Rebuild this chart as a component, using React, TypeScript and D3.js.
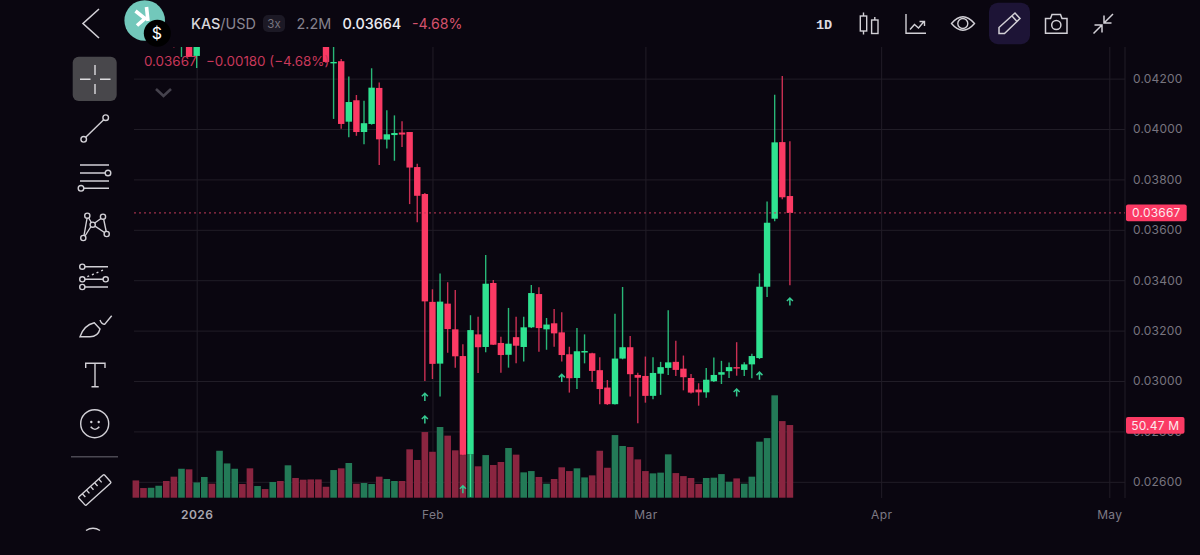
import React, { useRef, useEffect } from "react";
import * as d3 from "d3";

// one candle per day, 24 Dec 2025 to 20 Mar 2026
// the first candles sit above the visible top edge, so those are rough estimates
const opens = [
  0.0448, 0.0444, 0.0442, 0.0444, 0.0447, 0.0443, 0.0436, 0.044, 0.0429, 0.0438,
  0.0444, 0.044, 0.0456, 0.0464, 0.0472, 0.0468, 0.0456, 0.046, 0.0457, 0.0462,
  0.0458, 0.0469, 0.0462, 0.0456, 0.045, 0.0444, 0.04262, 0.04269, 0.04029, 0.04114,
  0.03988, 0.0402, 0.04163, 0.03958, 0.03976, 0.03986, 0.03988, 0.03849, 0.03742, 0.03314,
  0.03069, 0.03307, 0.03205, 0.03099, 0.02708, 0.03185, 0.03135, 0.03389, 0.03151, 0.03104,
  0.03174, 0.03135, 0.03213, 0.03345, 0.03205, 0.03229, 0.03193, 0.03106, 0.03012, 0.03113,
  0.0311, 0.03043, 0.02974, 0.02908, 0.03089, 0.03134, 0.03024, 0.0302, 0.02941, 0.03029,
  0.03052, 0.03076, 0.03049, 0.03012, 0.02966, 0.02955, 0.02999, 0.03025, 0.03039, 0.03055,
  0.03044, 0.03066, 0.03091, 0.03374, 0.03644, 0.03948, 0.03734,
];
const closes = [
  0.0444, 0.0442, 0.0444, 0.0447, 0.0443, 0.0436, 0.044, 0.04286, 0.0438, 0.0444,
  0.044, 0.0456, 0.0464, 0.0472, 0.0468, 0.0456, 0.046, 0.0457, 0.0462, 0.0458,
  0.0469, 0.0462, 0.0456, 0.045, 0.0444, 0.04266, 0.04266, 0.0402, 0.04107, 0.03988,
  0.04023, 0.04164, 0.03959, 0.03979, 0.03984, 0.03978, 0.03847, 0.03735, 0.03316, 0.03068,
  0.03315, 0.03206, 0.03098, 0.02707, 0.03202, 0.03134, 0.03386, 0.03144, 0.03103, 0.03148,
  0.0314, 0.03213, 0.03349, 0.0321, 0.03224, 0.03189, 0.03103, 0.03011, 0.03118, 0.03119,
  0.0304, 0.02968, 0.02908, 0.03089, 0.03134, 0.03027, 0.03013, 0.02941, 0.03032, 0.03055,
  0.03074, 0.03044, 0.03015, 0.02954, 0.02955, 0.03005, 0.03024, 0.03035, 0.03055, 0.03051,
  0.03066, 0.03099, 0.03374, 0.03628, 0.03947, 0.03729, 0.03667,
];
const highs = [
  0.045, 0.0446, 0.0446, 0.0449, 0.0449, 0.0445, 0.0442, 0.0442, 0.044, 0.0446,
  0.0447, 0.046, 0.047, 0.0479, 0.0475, 0.047, 0.0463, 0.0462, 0.0465, 0.0464,
  0.0473, 0.0471, 0.0464, 0.0457, 0.0452, 0.0446, 0.04353, 0.04278, 0.04208, 0.04135,
  0.04112, 0.04241, 0.04185, 0.04074, 0.04054, 0.04031, 0.03988, 0.03862, 0.03746, 0.03364,
  0.03427, 0.03392, 0.03361, 0.03146, 0.03261, 0.03255, 0.035, 0.03401, 0.03176, 0.0329,
  0.03255, 0.03255, 0.03381, 0.03372, 0.0325, 0.03286, 0.03273, 0.03136, 0.0321, 0.03185,
  0.03112, 0.03094, 0.03004, 0.03267, 0.03373, 0.03179, 0.03033, 0.03097, 0.03094, 0.03076,
  0.03281, 0.0316, 0.03101, 0.03028, 0.02991, 0.03052, 0.03093, 0.0308, 0.03073, 0.03154,
  0.03074, 0.03108, 0.03427, 0.03712, 0.04136, 0.0421, 0.03951,
];
const lows = [
  0.0442, 0.044, 0.044, 0.0442, 0.0441, 0.04323, 0.04286, 0.04286, 0.04242, 0.0436,
  0.0439, 0.0438, 0.0453, 0.0461, 0.0465, 0.0453, 0.0454, 0.0455, 0.0455, 0.0456,
  0.0456, 0.046, 0.0454, 0.0448, 0.0442, 0.04262, 0.0404, 0.04001, 0.03967, 0.03973,
  0.03939, 0.04017, 0.03857, 0.03923, 0.03874, 0.03929, 0.03702, 0.0363, 0.03, 0.03008,
  0.02938, 0.03112, 0.03053, 0.02636, 0.0254, 0.03032, 0.03114, 0.03143, 0.03033, 0.03053,
  0.0307, 0.03077, 0.0321, 0.03116, 0.03124, 0.03136, 0.03077, 0.02954, 0.02968, 0.0307,
  0.02996, 0.02908, 0.02905, 0.02907, 0.03086, 0.02938, 0.02832, 0.02914, 0.02928, 0.02945,
  0.03024, 0.0302, 0.02963, 0.0295, 0.02902, 0.02934, 0.02996, 0.02988, 0.03012, 0.03021,
  0.0302, 0.03011, 0.03087, 0.03333, 0.03634, 0.03721, 0.0338,
];
// volume in millions
const volumes = [
  12.0, 6.7, 6.9, 8.3, 11.6, 14.6, 20.1, 19.7, 10.6, 14.4,
  9.7, 32.6, 23.8, 20.1, 9.5, 20.4, 8.1, 6.0, 10.9, 11.6,
  22.5, 13.7, 12.5, 12.7, 12.7, 7.6, 19.2, 20.4, 24.1, 9.7,
  10.2, 9.5, 14.6, 13.0, 11.6, 11.6, 33.6, 26.2, 45.6, 31.9,
  49.1, 43.1, 32.9, 29.6, 29.9, 21.8, 29.6, 22.7, 24.8, 34.5,
  29.9, 17.6, 18.5, 14.4, 9.7, 13.0, 21.1, 18.5, 20.4, 14.1,
  15.5, 32.6, 20.8, 43.5, 35.9, 35.2, 26.6, 18.5, 16.9, 17.4,
  30.1, 17.1, 15.0, 13.7, 9.5, 13.7, 13.9, 16.4, 11.1, 13.4,
  9.7, 14.6, 38.9, 41.4, 71.1, 53.2, 50.47,
];
// little up arrows under some candles
const arrowCandles = [38, 38, 43, 56, 79, 82, 86];
const arrowPrices = [0.02937, 0.02847, 0.0257, 0.03012, 0.02954, 0.03021, 0.03315];

const priceTicks = [0.026, 0.028, 0.03, 0.032, 0.034, 0.036, 0.038, 0.04, 0.042];
const timeTicks = [
  new Date(Date.UTC(2026, 0, 1)),
  new Date(Date.UTC(2026, 1, 1)),
  new Date(Date.UTC(2026, 2, 1)),
  new Date(Date.UTC(2026, 3, 1)),
  new Date(Date.UTC(2026, 4, 1)),
];
const timeLabels = ["2026", "Feb", "Mar", "Apr", "May"];
const lastPrice = 0.03667;

const BG = "#0a0610";
const GREEN = "#2fe391";
const RED = "#fb3a64";
const GRID = "#211d27";
const FONT = "Inter, sans-serif";
const ICON = "#d2d0d6";

const App: React.FC = () => {
  const chartRef = useRef<SVGGElement | null>(null);

  useEffect(() => {
    if (!chartRef.current) return;
    const g = d3.select(chartRef.current);
    g.selectAll("*").remove();

    const left = 134;
    const right = 1125;
    const top = 47;
    const bottom = 498;

    const dates = d3.utcDay.range(
      new Date(Date.UTC(2025, 11, 24)),
      new Date(Date.UTC(2026, 2, 21))
    );
    const x = d3
      .scaleUtc()
      .domain([timeTicks[0], timeTicks[4]])
      .range([196.7, 1109.3]);
    const y = d3.scaleLinear().domain([0.026, 0.042]).range([481.8, 78.6]);
    const v = d3.scaleLinear().domain([0, 100]).range([497.7, 353.7]);

    g.append("clipPath")
      .attr("id", "plot")
      .append("rect")
      .attr("x", 130)
      .attr("y", top)
      .attr("width", right - 130)
      .attr("height", bottom - top + 1);

    // Grid lines
    g.append("g")
      .attr("transform", `translate(${right},0)`)
      .call(
        d3
          .axisLeft(y)
          .tickValues(priceTicks)
          .tickSize(right - left)
          .tickFormat(() => "")
      )
      .call((s) => s.select(".domain").remove())
      .call((s) => s.selectAll(".tick line").attr("stroke", GRID));

    g.append("g")
      .attr("transform", `translate(0,${bottom})`)
      .call(
        d3
          .axisTop(x)
          .tickValues(timeTicks)
          .tickSize(bottom - top)
          .tickFormat(() => "")
      )
      .call((s) => s.select(".domain").remove())
      .call((s) => s.selectAll(".tick line").attr("stroke", GRID));

    g.append("line")
      .attr("x1", right)
      .attr("x2", right)
      .attr("y1", top)
      .attr("y2", bottom)
      .attr("stroke", GRID);

    const plot = g.append("g").attr("clip-path", "url(#plot)");

    const up = (i: number) => closes[i] >= opens[i];

    // Candles
    plot
      .append("g")
      .selectAll("line")
      .data(dates)
      .join("line")
      .attr("x1", (d) => x(d))
      .attr("x2", (d) => x(d))
      .attr("y1", (_, i) => y(highs[i]))
      .attr("y2", (_, i) => y(lows[i]))
      .attr("stroke", (_, i) => (up(i) ? GREEN : RED))
      .attr("stroke-opacity", 0.8)
      .attr("stroke-width", 1.4);

    plot
      .append("g")
      .selectAll("rect")
      .data(dates)
      .join("rect")
      .attr("x", (d) => x(d) - 3.2)
      .attr("width", 6.4)
      .attr("y", (_, i) => y(Math.max(opens[i], closes[i])))
      .attr("height", (_, i) =>
        Math.max(1.4, Math.abs(y(opens[i]) - y(closes[i])))
      )
      .attr("fill", (_, i) => (up(i) ? GREEN : RED));

    // Volume
    plot
      .append("g")
      .selectAll("rect")
      .data(dates)
      .join("rect")
      .attr("x", (d) => x(d) - 3.3)
      .attr("width", 6.6)
      .attr("y", (_, i) => v(volumes[i]))
      .attr("height", (_, i) => v(0) - v(volumes[i]))
      .attr("fill", (_, i) => (up(i) ? "#237a57" : "#8a2540"));

    // the wick of the big green candle stays visible over its volume bar
    plot
      .append("line")
      .attr("x1", x(dates[44]))
      .attr("x2", x(dates[44]))
      .attr("y1", y(opens[44]))
      .attr("y2", y(lows[44]))
      .attr("stroke", GREEN)
      .attr("stroke-width", 1.4);

    // Arrows
    plot
      .append("g")
      .selectAll("path")
      .data(arrowCandles)
      .join("path")
      .attr("transform", (d, i) => `translate(${x(dates[d])},${y(arrowPrices[i])})`)
      .attr("d", "M0,4V-3.6M-3,-0.6L0,-3.6L3,-0.6")
      .attr("fill", "none")
      .attr("stroke", "#35c990")
      .attr("stroke-width", 1.5);

    // Last price line
    g.append("line")
      .attr("x1", left)
      .attr("x2", right)
      .attr("y1", y(lastPrice))
      .attr("y2", y(lastPrice))
      .attr("stroke", "#c23a58")
      .attr("stroke-width", 1)
      .attr("stroke-dasharray", "2 3");

    // Price axis
    g.append("g")
      .attr("transform", `translate(${right + 8},0)`)
      .call(
        d3
          .axisRight(y)
          .tickValues(priceTicks)
          .tickSize(0)
          .tickPadding(0)
          .tickFormat((d) => d3.format(".5f")(d as number))
      )
      .call((s) => s.select(".domain").remove())
      .call((s) =>
        s
          .selectAll(".tick text")
          .attr("fill", "#77747f")
          .attr("font-family", FONT)
          .attr("font-size", 12)
          .attr("letter-spacing", 0.2)
      );

    // Time axis
    g.append("g")
      .attr("transform", "translate(0,499)")
      .call(
        d3
          .axisBottom(x)
          .tickValues(timeTicks)
          .tickSize(0)
          .tickPadding(11)
          .tickFormat((_, i) => timeLabels[i])
      )
      .call((s) => s.select(".domain").remove())
      .call((s) =>
        s
          .selectAll<SVGTextElement, Date>(".tick text")
          .attr("fill", (_, i) => (i === 0 ? "#a9a6af" : "#7d7a85"))
          .attr("font-family", FONT)
          .attr("font-weight", (_, i) => (i === 0 ? 600 : 400))
          .attr("font-size", 12)
          .attr("letter-spacing", 0.4)
      );

    // Value tags on the right
    const tag = (w: number, cy: number, label: string) => {
      g.append("rect")
        .attr("x", 1126)
        .attr("y", cy - 8.3)
        .attr("width", w)
        .attr("height", 16.6)
        .attr("rx", 2)
        .attr("fill", RED);
      g.append("text")
        .attr("x", 1126 + w / 2)
        .attr("y", cy + 4.4)
        .attr("text-anchor", "middle")
        .attr("fill", "#fbe9ee")
        .attr("font-family", FONT)
        .attr("font-size", 12)
        .attr("letter-spacing", 0.2)
        .text(label);
    };
    tag(60.7, y(lastPrice), d3.format(".5f")(lastPrice));
    tag(58.5, v(volumes[86]) + 0.4, `${volumes[86]} M`);
  }, []);

  return (
    <svg
      width={1200}
      height={555}
      style={{ position: "absolute", left: 0, top: 0, background: BG }}
    >
      <g ref={chartRef} />

      {/* Header */}
      <path d="M99,9L83,23.5L99,38" fill="none" stroke={ICON} strokeWidth={1.6} />
      <circle cx={144.7} cy={20.5} r={20.3} fill="#72c8bb" />
      <path
        d="M135.500,11L145,18.500L137,25.500M146.500,7L148,21"
        fill="none"
        stroke="#fff"
        strokeWidth={3.6}
      />
      <circle cx={157.3} cy={33.3} r={13.5} fill="#000" />
      <text x={157} y={39} textAnchor="middle" fill="#fff" fontFamily={FONT} fontSize={16}>
        $
      </text>
      <text x={191} y={28.5} fontFamily={FONT} fontSize={14.4}>
        <tspan fill="#d8d6dc" fontWeight={500}>KAS</tspan>
        <tspan fill="#8a8792">/USD</tspan>
      </text>
      <rect x={263} y={15} width={22} height={17} rx={5} fill="#1c1925" />
      <text x={274} y={28} textAnchor="middle" fill="#77747f" fontFamily={FONT} fontSize={11.5}>
        3x
      </text>
      <text x={296.5} y={28.5} fill="#85828d" fontFamily={FONT} fontSize={14.4}>
        2.2M
      </text>
      <text x={342.5} y={28.5} fill="#ecebef" fontFamily={FONT} fontSize={14.4} fontWeight={500}>
        0.03664
      </text>
      <text x={412} y={28.5} fill="#d4526c" fontFamily={FONT} fontSize={14.2}>
        -4.68%
      </text>

      {/* Legend */}
      <text x={144} y={66} fill="#c8385a" fontFamily={FONT} fontSize={13.4}>
        0.03667
      </text>
      <text x={206} y={66} fill="#c8385a" fontFamily={FONT} fontSize={13.4}>
        −0.00180 (−4.68%)
      </text>
      <path d="M156,89L163.500,96L171,89" fill="none" stroke="#45424d" strokeWidth={2.6} />

      {/* Top right toolbar */}
      <text x={824} y={28.5} textAnchor="middle" fill="#dddbe0" fontFamily="'Liberation Mono', monospace" fontSize={13.5} fontWeight={700}>
        1D
      </text>
      <g fill="none" stroke={ICON} strokeWidth={1.4}>
        <rect x={860.3} y={16} width={6.4} height={15} />
        <path d="M863.500,12.500V16M863.500,31V34.500M874.800,17V20" />
        <rect x={871.6} y={20} width={6.4} height={13.5} />

        <path d="M906,14V33.300H926" />
        <path d="M910,29.500L914.500,24.500L918.500,28L924,21.500M919.500,21.500H924.500V26" />

        <path d="M951.500,23.500Q962.800,10 974.500,23.500Q962.800,37 951.500,23.500Z" />
        <circle cx={962.8} cy={23.5} r={5} />
      </g>
      <rect x={989} y={2.7} width={41} height={41.5} rx={9} fill="#1d1436" />
      <g fill="none" stroke={ICON} strokeWidth={1.5}>
        <path d="M999,33.500V27.500L1015,13L1020,18.500L1004.500,33.500Z" />
        <path d="M1012,16L1017,21.500" />

        <path d="M1045.500,18.500H1050.500L1052,14.500H1060.500L1062,18.500H1067V33.300H1045.500Z" />
        <circle cx={1056.3} cy={25} r={4.6} />

        <path d="M1113,14L1104,23M1104,15.500V23H1111.500" />
        <path d="M1093.500,33.500L1102,25M1094.500,25H1102V32.500" />
      </g>

      {/* Left toolbar */}
      <rect x={72.7} y={56.7} width={44} height={44.3} rx={6} fill="#48474b" />
      <path d="M95,65V75M95,84V94M80,79.300H90.500M100,79.300H110.500" stroke="#dcdbde" strokeWidth={1.4} />
      <g fill="none" stroke={ICON} strokeWidth={1.4}>
        <circle cx={83.7} cy={139.3} r={2.8} />
        <circle cx={105.7} cy={117.7} r={2.8} />
        <path d="M85.700,137.300L103.700,119.700" />

        <path d="M80,165H109M80,173H105M80,181H109M84,188.300H109" />
        <circle cx={108} cy={173} r={2.8} />
        <circle cx={81} cy={188.3} r={2.8} />

        <circle cx={87.3} cy={215.7} r={2.6} />
        <circle cx={103} cy={216.7} r={2.6} />
        <circle cx={92.7} cy={224.7} r={2.6} />
        <circle cx={83.3} cy={238} r={2.6} />
        <circle cx={106.7} cy={234} r={2.6} />
        <path d="M84,235.500L87,218.500M88.700,218L91.300,222.500M94.700,223L101,218.500M103.700,219.300L106.200,231.500M95,226.200L104.500,232.500M85,236L91,226.500" />

        <path d="M85,266.700H108M85,279.300H103M85,287H108" />
        <circle cx={82.3} cy={266.7} r={2.6} />
        <circle cx={82.3} cy={279.3} r={2.6} />
        <circle cx={105.7} cy={279.3} r={2.6} />
        <circle cx={82.3} cy={287} r={2.6} />
        <path d="M87.300,276.700L105,269.300" strokeDasharray="2 3" />

        <path d="M80,336.700Q84,325 94.300,322.700L100,329Q98,336.700 90,336.700Z" />
        <path d="M100,320Q102,325 105,324L111.700,315.700" />

        <path d="M85.700,368V363.300H105V368M95,363.300V386.700M91.500,386.700H98.700" />

        <circle cx={94.7} cy={423.7} r={14} />
        <path d="M90.700,426.700Q95,432 99.300,426.700" />

        <g transform="rotate(-42 94.700 490)">
          <rect x={77.5} y={484.5} width={34.5} height={11} rx={1} />
          <path d="M83,484.500V489M88.500,484.500V489M94,484.500V489M99.500,484.500V489M105,484.500V489" />
        </g>
        <path d="M86,530.500Q93,526 100,530.500" />
      </g>
      <circle cx={91.3} cy={422} r={1.2} fill={ICON} />
      <circle cx={98.7} cy={422} r={1.2} fill={ICON} />
      <path d="M71,456.700H118" stroke="#4b4852" strokeWidth={1.5} />
    </svg>
  );
};

export default App;
